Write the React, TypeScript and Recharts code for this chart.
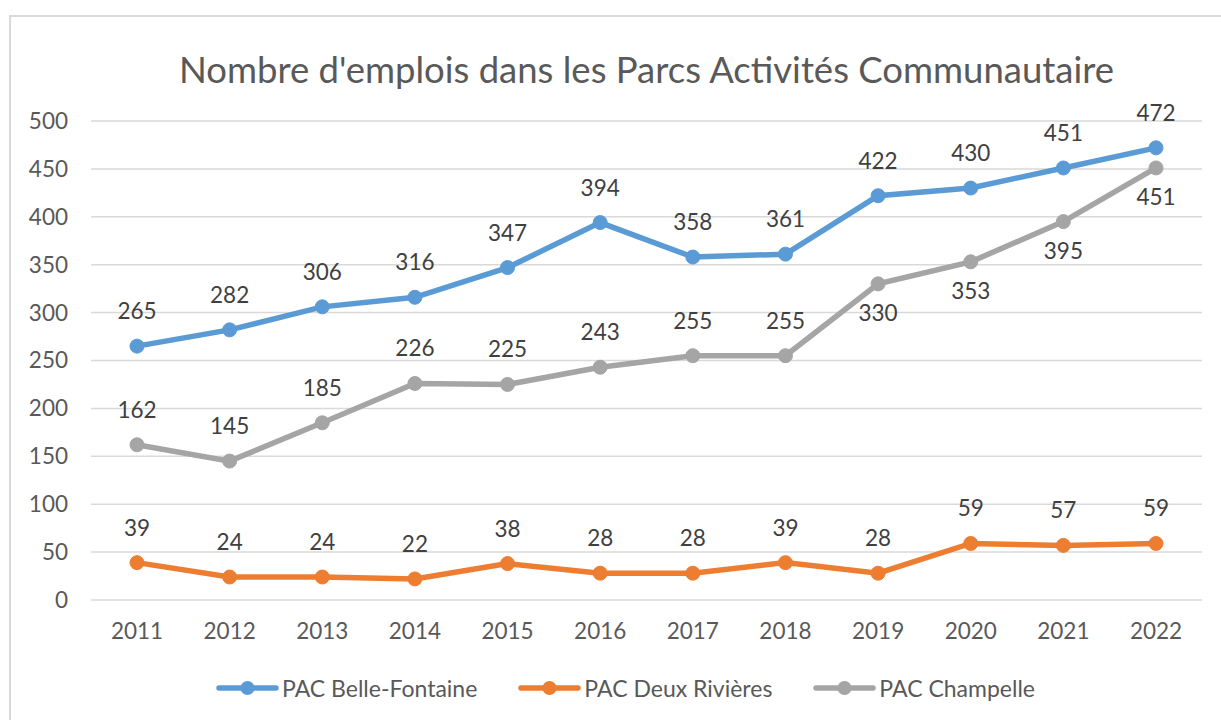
import { LineChart, Line, CartesianGrid, XAxis, YAxis, Legend, LabelList } from "recharts";

const years = ["2011", "2012", "2013", "2014", "2015", "2016", "2017", "2018", "2019", "2020", "2021", "2022"];
const belleFontaine = [265, 282, 306, 316, 347, 394, 358, 361, 422, 430, 451, 472];
const deuxRivieres = [39, 24, 24, 22, 38, 28, 28, 39, 28, 59, 57, 59];
const champelle = [162, 145, 185, 226, 225, 243, 255, 255, 330, 353, 395, 451];
const yTicks = [0, 50, 100, 150, 200, 250, 300, 350, 400, 450, 500];

const seriesNames = ["PAC Belle-Fontaine", "PAC Deux Rivières", "PAC Champelle"];
const seriesColors = ["#5b9bd5", "#ed7d31", "#a5a5a5"];

const title = "Nombre d'emplois dans les Parcs Activités Communautaire";
const FONT = "Lato, 'Open Sans', sans-serif";

const data = years.map((year, i) => ({
  year,
  belle: belleFontaine[i],
  deux: deuxRivieres[i],
  champ: champelle[i],
}));

// gray series labels switch below the point from 2019 on
const champBelowFrom = years.indexOf("2019");

const makeLabel = (below: (i: number) => boolean) => (props: any) => {
  const { x, y, value, index } = props;
  const b = below(index);
  return (
    <text
      x={x}
      y={b ? y + 37 : y - 27}
      textAnchor="middle"
      fill="#404040"
      fontSize={22.5}
      fontFamily={FONT}
    >
      {value}
    </text>
  );
};

// legend drawn in series order (recharts would sort it by name)
const renderLegend = () => (
  <div
    style={{
      display: "flex",
      justifyContent: "flex-start",
      alignItems: "center",
      height: 40,
      paddingLeft: 216,
      fontFamily: FONT,
      fontSize: 23,
      color: "#595959",
    }}
  >
    {seriesNames.map((name, i) => (
      <div key={name} style={{ display: "flex", alignItems: "center", marginRight: 41 }}>
        <svg width={63} height={16} style={{ marginRight: 3 }}>
          <line x1={3} y1={8} x2={60} y2={8} stroke={seriesColors[i]} strokeWidth={5.5} strokeLinecap="round" />
          <circle cx={31.5} cy={8} r={7} fill={seriesColors[i]} />
        </svg>
        <span>{name}</span>
      </div>
    ))}
  </div>
);

export default function App() {
  return (
    <div
      style={{
        position: "absolute",
        left: 0,
        top: 0,
        width: 1221,
        height: 720,
        background: "#fff",
        overflow: "hidden",
      }}
    >
      <div
        style={{
          position: "absolute",
          left: 9,
          top: 15,
          width: 1300,
          height: 800,
          border: "2px solid #d9d9d9",
        }}
      />
      <div
        style={{
          position: "absolute",
          left: 91,
          top: 47,
          width: 1111,
          textAlign: "center",
          fontFamily: FONT,
          fontSize: 36.5,
          lineHeight: "44px",
          color: "#595959",
          whiteSpace: "nowrap",
        }}
      >
        {title}
      </div>
      <div style={{ position: "absolute", left: 0, top: 0 }}>
        <LineChart
          width={1221}
          height={720}
          data={data}
          margin={{ top: 121, right: 19, left: 0, bottom: 12 }}
        >
          <CartesianGrid vertical={false} stroke="#d9d9d9" strokeWidth={1.5} />
          <XAxis
            dataKey="year"
            height={68}
            padding={{ left: 46, right: 46 }}
            axisLine={false}
            tickLine={false}
            tickSize={0}
            tickMargin={23}
            tick={{ fill: "#595959", fontSize: 22.5, fontFamily: FONT }}
          />
          <YAxis
            width={91}
            domain={[0, 500]}
            ticks={yTicks}
            axisLine={false}
            tickLine={false}
            tickSize={0}
            tickMargin={23}
            tick={{ fill: "#595959", fontSize: 22.5, fontFamily: FONT }}
          />
          <Legend verticalAlign="bottom" height={40} content={renderLegend} />
          <Line
            dataKey="belle"
            name={seriesNames[0]}
            stroke={seriesColors[0]}
            strokeWidth={5.5}
            dot={{ r: 7, fill: seriesColors[0], stroke: seriesColors[0], strokeWidth: 1 }}
            activeDot={false}
            isAnimationActive={false}
          >
            <LabelList dataKey="belle" content={makeLabel(() => false)} />
          </Line>
          <Line
            dataKey="deux"
            name={seriesNames[1]}
            stroke={seriesColors[1]}
            strokeWidth={5.5}
            dot={{ r: 7, fill: seriesColors[1], stroke: seriesColors[1], strokeWidth: 1 }}
            activeDot={false}
            isAnimationActive={false}
          >
            <LabelList dataKey="deux" content={makeLabel(() => false)} />
          </Line>
          <Line
            dataKey="champ"
            name={seriesNames[2]}
            stroke={seriesColors[2]}
            strokeWidth={5.5}
            dot={{ r: 7, fill: seriesColors[2], stroke: seriesColors[2], strokeWidth: 1 }}
            activeDot={false}
            isAnimationActive={false}
          >
            <LabelList dataKey="champ" content={makeLabel((i) => i >= champBelowFrom)} />
          </Line>
        </LineChart>
      </div>
    </div>
  );
}
